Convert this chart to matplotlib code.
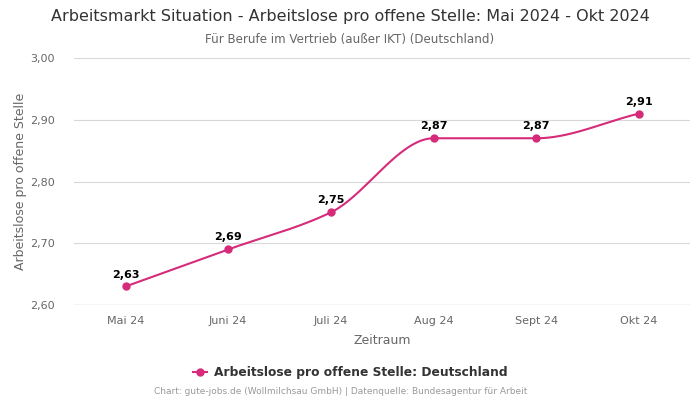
import numpy as np
import matplotlib
matplotlib.use("Agg")
import matplotlib.pyplot as plt
from matplotlib.lines import Line2D

months = ["Mai 24", "Juni 24", "Juli 24", "Aug 24", "Sept 24", "Okt 24"]
values = [2.63, 2.69, 2.75, 2.87, 2.87, 2.91]
yticks = [2.60, 2.70, 2.80, 2.90, 3.00]

line_color = "#d62b7a"


def monotone_curve(x, y, n=40):
    # Fritsch-Carlson monotone cubic, only for drawing the smooth line
    x = np.asarray(x, float)
    y = np.asarray(y, float)
    h = np.diff(x)
    d = np.diff(y) / h
    m = np.zeros_like(y)
    m[0], m[-1] = d[0], d[-1]
    for k in range(1, len(y) - 1):
        if d[k - 1] * d[k] <= 0:
            m[k] = 0
        else:
            w1 = 2 * h[k] + h[k - 1]
            w2 = h[k] + 2 * h[k - 1]
            m[k] = (w1 + w2) / (w1 / d[k - 1] + w2 / d[k])
    xs, ys = [], []
    for k in range(len(x) - 1):
        t = np.linspace(0, 1, n)
        h00 = 2 * t**3 - 3 * t**2 + 1
        h10 = t**3 - 2 * t**2 + t
        h01 = -2 * t**3 + 3 * t**2
        h11 = t**3 - t**2
        xs.append(x[k] + t * h[k])
        ys.append(h00 * y[k] + h10 * h[k] * m[k] + h01 * y[k + 1] + h11 * h[k] * m[k + 1])
    return np.concatenate(xs), np.concatenate(ys)


fig = plt.figure(figsize=(7, 4), dpi=100)
ax = fig.add_axes([0.106, 0.2375, 0.88, 0.6175])

xpos = np.arange(len(months))
cx, cy = monotone_curve(xpos, values)
ax.plot(cx, cy, color=line_color, lw=1.5, zorder=3)
ax.plot(xpos, values, "o", color=line_color, ms=5, zorder=4)

for x, v in zip(xpos, values):
    ax.annotate(f"{v:.2f}".replace(".", ","), (x, v), xytext=(0, 5),
                textcoords="offset points", ha="center", va="bottom",
                fontsize=8, fontweight="bold", color="#000000")

ax.set_xlim(-0.5, len(months) - 0.5)
ax.set_ylim(2.60, 3.00)
ax.set_yticks(yticks)
ax.set_yticklabels([f"{t:.2f}".replace(".", ",") for t in yticks])
ax.set_xticks(xpos)
ax.set_xticklabels(months)
ax.grid(axis="y", color="#d8d8d8", lw=0.8)
ax.set_axisbelow(True)
for s in ax.spines.values():
    s.set_visible(False)
ax.axhline(2.60, color="#ccd6eb", lw=1, zorder=1)
ax.tick_params(axis="both", length=0, labelsize=8, colors="#666666", pad=8)
ax.tick_params(axis="y", pad=14)

ax.set_xlabel("Zeitraum", fontsize=9, color="#666666", labelpad=6)
ax.set_ylabel("Arbeitslose pro offene Stelle", fontsize=9, color="#666666", labelpad=2)

fig.text(0.5, 0.958, "Arbeitsmarkt Situation - Arbeitslose pro offene Stelle: Mai 2024 - Okt 2024",
         ha="center", va="center", fontsize=11.5, color="#333333")
fig.text(0.5, 0.902, "Für Berufe im Vertrieb (außer IKT) (Deutschland)",
         ha="center", va="center", fontsize=8.6, color="#666666")

handle = Line2D([], [], color=line_color, marker="o", ms=5, lw=1.5)
leg = fig.legend([handle], ["Arbeitslose pro offene Stelle: Deutschland"],
                 loc="center", bbox_to_anchor=(0.5, 0.068), frameon=False,
                 prop={"weight": "bold", "size": 8.8}, handlelength=1.2, handletextpad=0.5)
for t in leg.get_texts():
    t.set_color("#333333")

fig.text(0.486, 0.02, "Chart: gute-jobs.de (Wollmilchsau GmbH) | Datenquelle: Bundesagentur für Arbeit",
         ha="center", va="center", fontsize=6.5, color="#999999")

fig.savefig("out.png", dpi=100)
